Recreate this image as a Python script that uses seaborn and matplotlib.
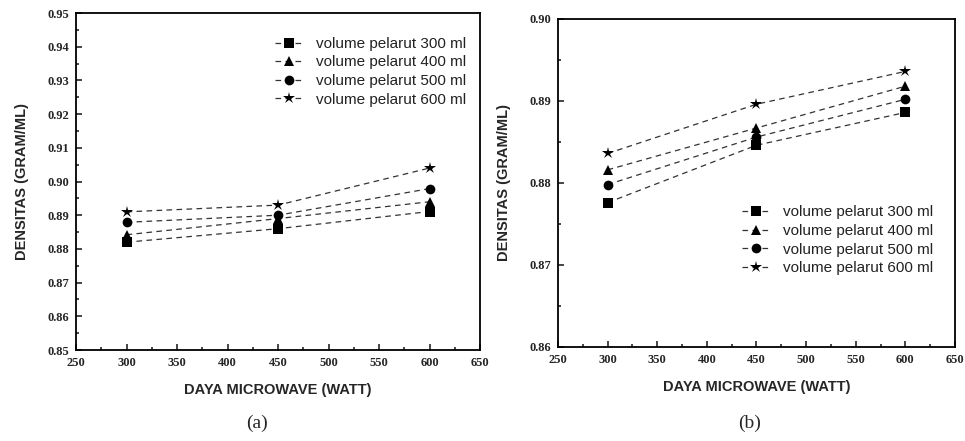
import matplotlib
matplotlib.use("Agg")
import matplotlib.pyplot as plt
import seaborn as sns
import pandas as pd
from matplotlib.ticker import MultipleLocator, FormatStrFormatter

daya = [300, 450, 600]
labels = ["volume pelarut 300 ml", "volume pelarut 400 ml",
          "volume pelarut 500 ml", "volume pelarut 600 ml"]
a_300 = [0.8820, 0.8860, 0.8911]
a_400 = [0.8842, 0.8890, 0.8940]
a_500 = [0.8879, 0.8900, 0.8979]
a_600 = [0.8910, 0.8930, 0.9040]
b_300 = [0.8776, 0.8846, 0.8886]
b_400 = [0.8816, 0.8867, 0.8918]
b_500 = [0.8798, 0.8856, 0.8902]
b_600 = [0.8836, 0.8896, 0.8936]
markers = ["s", "^", "o", "*"]

sns.set_style("white")
plt.rcParams['font.family'] = ['Liberation Sans', 'DejaVu Sans']

fig = plt.figure(figsize=(9.65, 4.41), dpi=100)
axA = fig.add_axes([0.0788, 0.2063, 0.4187, 0.7642])
axB = fig.add_axes([0.5782, 0.2132, 0.4114, 0.7438])

def draw(ax, series, ylim, yfmt, legend_loc, anchor):
    for lab, vals, m in zip(labels, series, markers):
        df = pd.DataFrame({"x": daya, "y": vals})
        sns.lineplot(data=df, x="x", y="y", ax=ax, marker=m, color="black",
                     linestyle="--", linewidth=0.9, dashes=False,
                     markersize=9 if m == "*" else 7, markeredgewidth=0,
                     label=lab)
    for ln in ax.get_lines():
        ln.set_linestyle((0, (4.5, 3.5)))
        ln.set_color("#333333")
        ln.set_markerfacecolor("black")
    ax.set_xlim(250, 650)
    ax.set_ylim(*ylim)
    ax.xaxis.set_major_locator(MultipleLocator(50))
    ax.xaxis.set_minor_locator(MultipleLocator(25))
    ax.yaxis.set_major_locator(MultipleLocator(0.01))
    ax.yaxis.set_minor_locator(MultipleLocator(0.005))
    ax.yaxis.set_major_formatter(FormatStrFormatter(yfmt))
    ax.tick_params(which="both", direction="in", left=True, bottom=True,
                   top=False, right=False, width=1.2)
    ax.tick_params(which="major", length=4, pad=5)
    ax.tick_params(which="minor", length=2.5)
    for lbl in ax.get_xticklabels() + ax.get_yticklabels():
        lbl.set_family(["Liberation Serif", "DejaVu Serif"])
        lbl.set_fontweight("bold")
        lbl.set_fontsize(9)
    for s in ax.spines.values():
        s.set_linewidth(1.3)
        s.set_color("black")
    ax.set_xlabel("DAYA MICROWAVE (WATT)", fontsize=10.5, fontweight="bold", labelpad=10)
    ax.set_ylabel("DENSITAS (GRAM/ML)", fontsize=10.5, fontweight="bold", labelpad=13)
    handles, labs = ax.get_legend_handles_labels()
    leg = ax.legend(handles, labs, loc=legend_loc, bbox_to_anchor=anchor,
                    frameon=False, fontsize=11, handlelength=1.9,
                    handletextpad=0.8, labelspacing=0.3)
    for t in leg.get_texts():
        t.set_color("#222222")

draw(axA, [a_300, a_400, a_500, a_600], (0.85, 0.95), "%.2f", "upper right", (1.0, 0.97))
draw(axB, [b_300, b_400, b_500, b_600], (0.86, 0.90), "%.2f", "center right", (0.98, 0.325))

fig.text(257/965, 1-423/441, "(a)", ha="center", va="center", fontsize=14,
         family=["Liberation Serif", "DejaVu Serif"])
fig.text(750/965, 1-423/441, "(b)", ha="center", va="center", fontsize=14,
         family=["Liberation Serif", "DejaVu Serif"])

fig.savefig("out.png", dpi=100)
